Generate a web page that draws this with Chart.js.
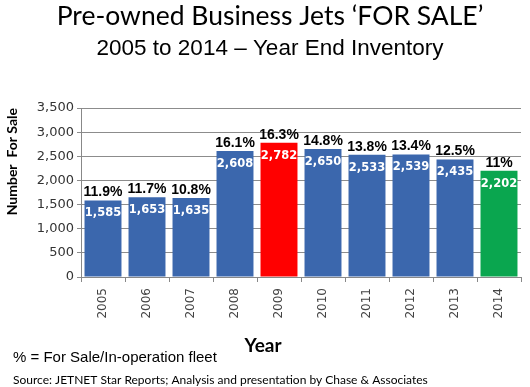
<!DOCTYPE html>
<html>
<head>
<meta charset="utf-8">
<script src="https://cdn.jsdelivr.net/npm/chart.js@4.4.1/dist/chart.umd.min.js"></script>
<style>
  html, body { margin: 0; padding: 0; background: #fff; }
  #wrap { width: 530px; height: 387px; position: relative; }
</style>
</head>
<body>
<div id="wrap"><canvas id="jets" width="530" height="387"></canvas></div>
<script>
  // -- Data --
  var years = ['2005', '2006', '2007', '2008', '2009', '2010', '2011', '2012', '2013', '2014'];
  var forSale = [1585, 1653, 1635, 2608, 2782, 2650, 2533, 2539, 2435, 2202];
  var pctFleet = ['11.9%', '11.7%', '10.8%', '16.1%', '16.3%', '14.8%', '13.8%', '13.4%', '12.5%', '11%'];
  var yTicks = [0, 500, 1000, 1500, 2000, 2500, 3000, 3500];

  var blue = '#3b67ad';
  var barColors = years.map(function (y) {
    if (y === '2009') return '#ff0000';
    if (y === '2014') return '#0aa64f';
    return blue;
  });

  // Titles, percent above each bar, count inside near the top, plus footnotes.
  var labelPlugin = {
    id: 'barLabels',
    afterDatasetsDraw: function (chart) {
      var ctx = chart.ctx;
      var meta = chart.getDatasetMeta(0);
      ctx.save();
      ctx.textAlign = 'center';
      meta.data.forEach(function (bar, i) {
        ctx.fillStyle = '#000';
        ctx.font = 'bold 14px "Liberation Sans", Arial, sans-serif';
        ctx.textBaseline = 'alphabetic';
        ctx.fillText(pctFleet[i], bar.x, bar.y - 4);
        ctx.fillStyle = '#fff';
        ctx.font = 'bold 11.5px "DejaVu Sans", Verdana, sans-serif';
        ctx.textBaseline = 'middle';
        ctx.fillText(forSale[i].toLocaleString('en-US'), bar.x, bar.y + 13);
      });

      ctx.textAlign = 'center';
      ctx.textBaseline = 'middle';
      ctx.fillStyle = '#000';
      ctx.font = '26.5px Lato, "Open Sans", sans-serif';
      ctx.fillText('Pre-owned Business Jets \u2018FOR SALE\u2019', 270, 16);
      ctx.font = '22.5px "Liberation Sans", Arial, sans-serif';
      ctx.fillText('2005 to 2014 \u2013 Year End Inventory', 270, 49);

      ctx.font = 'bold 19px Lato, "Open Sans", sans-serif';
      ctx.fillText('Year', 263, 346);

      ctx.textAlign = 'left';
      ctx.font = '15px "Liberation Sans", Arial, sans-serif';
      ctx.fillText('% = For Sale/In-operation fleet', 13, 358);
      ctx.font = '12px Lato, "Open Sans", sans-serif';
      ctx.fillText('Source: JETNET Star Reports; Analysis and presentation by Chase & Associates', 13, 380);
      ctx.restore();
    }
  };

  new Chart(document.getElementById('jets').getContext('2d'), {
    type: 'bar',
    data: {
      labels: years,
      datasets: [{
        data: forSale,
        backgroundColor: barColors,
        borderWidth: 0,
        categoryPercentage: 1,
        barPercentage: 0.84
      }]
    },
    options: {
      responsive: false,
      animation: false,
      layout: { padding: { left: 4, right: 9, top: 108, bottom: 60 } },
      plugins: {
        legend: { display: false },
        tooltip: { enabled: false }
      },
      scales: {
        x: {
          afterFit: function (scale) { scale.height = 50; },
          grid: {
            offset: true,
            drawOnChartArea: false,
            color: '#888',
            tickLength: 5
          },
          border: { color: '#888' },
          ticks: {
            color: '#444',
            maxRotation: 90,
            minRotation: 90,
            padding: 6,
            font: { family: '"DejaVu Sans", Verdana, sans-serif', size: 12 }
          }
        },
        y: {
          min: 0,
          max: 3500,
          afterFit: function (scale) { scale.width = 77; },
          afterBuildTicks: function (scale) {
            scale.ticks = yTicks.map(function (v) { return { value: v }; });
          },
          grid: { color: '#8c8c8c', tickLength: 4 },
          border: { color: '#888' },
          title: {
            display: true,
            align: 'end',
            text: 'Number  For Sale',
            color: '#000',
            font: { family: 'Lato, "Open Sans", sans-serif', size: 14, weight: 'bold' },
            padding: { top: 0, bottom: 2 }
          },
          ticks: {
            color: '#333',
            padding: 3,
            font: { family: '"DejaVu Sans", Verdana, sans-serif', size: 13 },
            callback: function (v) { return v.toLocaleString('en-US'); }
          }
        }
      }
    },
    plugins: [labelPlugin]
  });
</script>
</body>
</html>
